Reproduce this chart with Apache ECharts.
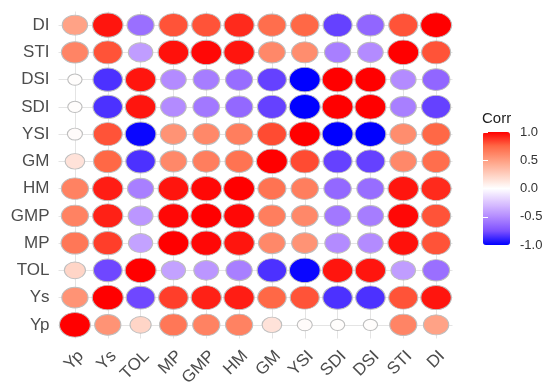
<!DOCTYPE html>
<html>
<head>
<meta charset="utf-8">
<title>Corr</title>
<script src="https://cdn.jsdelivr.net/npm/echarts@6/dist/echarts.min.js"></script>
<style>
  html, body { margin: 0; padding: 0; background: #fff; }
  #chart { width: 550px; height: 389px; }
</style>
</head>
<body>
<div id="chart"></div>
<script>
// variable order (x left->right, y bottom->top)
var vars = ['Yp', 'Ys', 'TOL', 'MP', 'GMP', 'HM', 'GM', 'YSI', 'SDI', 'DSI', 'STI', 'DI'];

// correlation rows, same order as vars
var rYp  = [1.00, 0.55, 0.22, 0.68, 0.63, 0.63, 0.15, 0.02, 0.01, 0.01, 0.62, 0.48];
var rYs  = [0.55, 1.00, -0.78, 0.85, 0.92, 0.93, 0.75, 0.80, -0.85, -0.85, 0.80, 0.95];
var rTOL = [0.22, -0.78, 1.00, -0.40, -0.45, -0.55, -0.85, -0.98, 0.95, 0.95, -0.42, -0.62];
var rMP  = [0.68, 0.85, -0.40, 1.00, 0.98, 0.95, 0.60, 0.55, -0.50, -0.50, 0.96, 0.80];
var rGMP = [0.63, 0.92, -0.45, 0.98, 1.00, 0.98, 0.65, 0.60, -0.58, -0.56, 0.98, 0.80];
var rHM  = [0.63, 0.93, -0.55, 0.95, 0.98, 1.00, 0.70, 0.65, -0.65, -0.63, 0.95, 0.90];
var rGM  = [0.15, 0.75, -0.85, 0.60, 0.65, 0.70, 1.00, 0.82, -0.80, -0.80, 0.60, 0.72];
var rYSI = [0.02, 0.80, -0.98, 0.55, 0.60, 0.65, 0.82, 1.00, -1.00, -1.00, 0.58, 0.75];
var rSDI = [0.01, -0.85, 0.95, -0.50, -0.58, -0.65, -0.80, -1.00, 1.00, 1.00, -0.55, -0.80];
var rDSI = [0.01, -0.85, 0.95, -0.50, -0.56, -0.63, -0.80, -1.00, 1.00, 1.00, -0.50, -0.66];
var rSTI = [0.62, 0.80, -0.42, 0.96, 0.98, 0.95, 0.60, 0.58, -0.55, -0.50, 1.00, 0.80];
var rDI  = [0.48, 0.95, -0.62, 0.80, 0.80, 0.90, 0.72, 0.75, -0.80, -0.66, 0.80, 1.00];
var corrRows = [rYp, rYs, rTOL, rMP, rGMP, rHM, rGM, rYSI, rSDI, rDSI, rSTI, rDI];

// blue - white - red (Lab-like stops)
var corrColors = ['#0000ff', '#7e51ff', '#b38bff', '#dcc4ff', '#ffffff',
                  '#ffcfbf', '#ff9e81', '#ff6846', '#ff0000'];

var points = [];
corrRows.forEach(function (row, i) {
  row.forEach(function (v, j) {
    points.push([j, i, v]);
  });
});

var textColor = '#4d4d4d';
var gridLine = { color: '#e4e4e4', width: 1, type: 'solid' };

var chart = echarts.init(document.getElementById('chart'));
chart.setOption({
  backgroundColor: '#ffffff',
  animation: false,
  grid: [
    { left: 58.5, top: 11.5, width: 394, height: 328 },
    { left: 483, top: 132, width: 27, height: 113 }
  ],
  xAxis: [{
    type: 'category',
    data: vars,
    gridIndex: 0,
    axisLine: { show: false },
    axisTick: { show: false },
    splitLine: { show: false },
    axisLabel: {
      interval: 0, rotate: 45, margin: 9, verticalAlign: 'top',
      color: textColor, fontSize: 17, fontFamily: 'Liberation Sans'
    }
  }, {
    type: 'value', gridIndex: 1, show: false
  }],
  yAxis: [{
    type: 'category',
    data: vars,
    gridIndex: 0,
    axisLine: { show: false },
    axisTick: { show: false },
    splitLine: { show: false },
    axisLabel: {
      interval: 0, margin: 9,
      color: textColor, fontSize: 17, fontFamily: 'Liberation Sans'
    }
  }, {
    type: 'value', gridIndex: 1, position: 'right',
    min: -1, max: 1, interval: 0.5, z: 10,
    axisLine: { show: false },
    splitLine: { show: false },
    axisTick: { show: true, inside: true, length: 5, lineStyle: { color: '#ffffff', width: 1 } },
    axisLabel: {
      margin: 10, color: '#333', fontSize: 13, fontFamily: 'Liberation Sans',
      formatter: function (v) { return v.toFixed(1); }
    }
  }, {
    type: 'value', gridIndex: 1, position: 'left',
    min: -1, max: 1, interval: 0.5, z: 10,
    axisLine: { show: false },
    splitLine: { show: false },
    axisTick: { show: true, inside: true, length: 5, lineStyle: { color: '#ffffff', width: 1 } },
    axisLabel: { show: false }
  }],
  visualMap: {
    type: 'continuous',
    min: -1, max: 1,
    dimension: 2,
    seriesIndex: 1,
    calculable: false,
    hoverLink: false,
    left: 483, top: 132,
    itemWidth: 27, itemHeight: 113,
    padding: 0,
    text: null,
    inRange: { color: corrColors }
  },
  graphic: [{
    type: 'text',
    left: 482, top: 111,
    style: { text: 'Corr', fill: '#222', fontSize: 15, fontFamily: 'Liberation Sans' }
  }],
  series: [{
    // grid lines through cell centres
    type: 'scatter',
    xAxisIndex: 0, yAxisIndex: 0,
    data: points,
    symbolSize: 0,
    silent: true,
    z: 1,
    markLine: {
      silent: true,
      symbol: 'none',
      label: { show: false },
      lineStyle: gridLine,
      data: vars.map(function (v, i) { return { xAxis: i }; })
        .concat(vars.map(function (v, i) { return { yAxis: i }; }))
    }
  }, {
    type: 'scatter',
    xAxisIndex: 0, yAxisIndex: 0,
    data: points,
    z: 10,
    symbol: 'circle',
    symbolSize: function (val) {
      var s = 0.4 + 0.6 * Math.sqrt(Math.abs(val[2]));
      return [31 * s, 24.5 * s];
    },
    itemStyle: { borderColor: '#bebebe', borderWidth: 1, opacity: 1 }
  }]
});
</script>
</body>
</html>
